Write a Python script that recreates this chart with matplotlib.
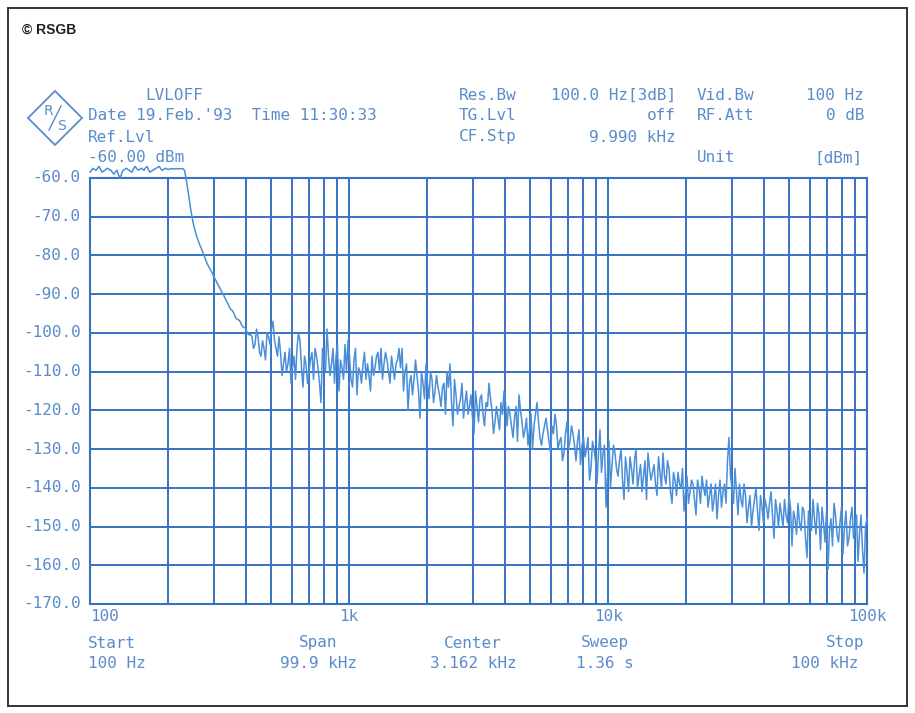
import numpy as np
import matplotlib
matplotlib.use("Agg")
import matplotlib.pyplot as plt
from matplotlib.patches import Polygon, Rectangle
from matplotlib.lines import Line2D
from matplotlib.ticker import LogLocator, NullFormatter, FixedLocator

# sweep: 100 Hz .. 100 kHz, levels in dBm
start_hz = 100
stop_hz = 100000
levels = [
    -58.5, -57.5, -58.0, -57.0, -58.5, -58.0, -57.5, -58.0, -59.0, -58.0,
    -60.0, -58.0, -57.5, -58.0, -58.5, -57.0, -58.0, -57.5, -58.0, -57.0,
    -58.5, -58.0, -57.5, -57.0, -58.0, -57.5, -57.8, -57.6, -57.7, -57.6,
    -57.6, -57.6, -60.0, -65.0, -70.0, -73.5, -76.0, -78.0, -80.0, -82.0,
    -83.5, -85.0, -86.5, -88.0, -89.5, -91.0, -92.5, -94.0, -95.0, -96.5,
    -97.0, -98.5, -99.0, -100.5, -101.0, -103, -101, -106, -104, -100,
    -103, -97, -104, -101, -111, -105, -108, -113, -106, -104,
    -102, -114, -108, -110, -105, -104, -109, -118, -107, -99,
    -111, -104, -106, -115, -109, -103, -102, -112, -107, -116,
    -110, -108, -112, -111, -106, -109, -105, -104, -108, -107,
    -113, -109, -108, -104, -104, -110, -120, -111, -112, -111,
    -122, -113, -108, -117, -112, -115, -114, -119, -113, -110,
    -108, -124, -116, -119, -113, -118, -121, -116, -126, -119,
    -117, -121, -118, -113, -120, -123, -122, -118, -115, -124,
    -121, -127, -119, -116, -123, -125, -129, -121, -124, -118,
    -127, -126, -122, -128, -124, -121, -130, -127, -131, -123,
    -128, -126, -133, -125, -129, -132, -127, -135, -130, -139,
    -125, -131, -145, -128, -134, -131, -137, -130, -143, -136,
    -132, -139, -130, -137, -141, -133, -131, -138, -134, -142,
    -136, -131, -139, -135, -144, -138, -136, -140, -146, -137,
    -141, -139, -147, -140, -137, -142, -145, -139, -143, -148,
    -138, -141, -144, -127, -140, -135, -147, -143, -139, -149,
    -142, -146, -140, -151, -145, -143, -148, -141, -153, -146,
    -144, -150, -147, -142, -155, -148, -144, -151, -146, -158,
    -149, -143, -152, -147, -145, -154, -161, -148, -144, -152,
    -149, -157, -146, -153, -145, -151, -159, -147, -162, -148,
]
# readings taken between the points above (half a step further on)
levels_between = [
    -58.0, -57.8, -57.5, -57.8, -58.2, -57.6, -57.9, -58.6, -58.4, -59.2,
    -59.0, -57.8, -57.7, -58.3, -57.6, -57.5, -57.8, -57.7, -57.4, -57.9,
    -58.2, -57.7, -57.3, -57.5, -57.8, -57.6, -57.7, -57.6, -57.6, -57.6,
    -57.6, -58.0, -62.5, -67.8, -72.0, -75.0, -77.1, -79.0, -81.0, -82.8,
    -84.2, -85.8, -87.3, -88.8, -90.2, -91.8, -93.4, -94.3, -96.0, -96.6,
    -97.9, -98.6, -100.2, -100.4, -104, -99, -105, -102, -107, -101,
    -99, -102, -106, -105, -108, -110, -104, -109, -112, -100,
    -109, -106, -113, -107, -112, -106, -113, -104, -110, -106,
    -108, -113, -103, -107, -112, -110, -106, -114, -104, -109,
    -113, -105, -108, -115, -111, -106, -110, -112, -105, -110,
    -106, -112, -107, -109, -115, -108, -113, -116, -107, -115,
    -110, -117, -113, -110, -118, -111, -116, -114, -121, -114,
    -118, -112, -121, -117, -122, -115, -119, -122, -115, -123,
    -116, -124, -119, -117, -126, -119, -125, -121, -118, -119,
    -124, -122, -128, -120, -127, -122, -125, -130, -121, -123,
    -129, -124, -125, -131, -126, -124, -128, -133, -126, -130,
    -124, -129, -128, -134, -127, -130, -138, -128, -133, -131,
    -136, -129, -136, -140, -129, -135, -133, -138, -132, -141,
    -135, -133, -140, -134, -137, -143, -135, -136, -139, -132,
    -140, -137, -133, -141, -136, -142, -139, -135, -141, -144,
    -138, -143, -138, -144, -140, -138, -142, -146, -139, -142,
    -145, -139, -133, -137, -144, -141, -139, -145, -142, -145,
    -150, -143, -146, -142, -149, -145, -144, -147, -143, -150,
    -147, -143, -149, -145, -146, -152, -149, -145, -153, -146,
    -151, -148, -144, -156, -149, -146, -151, -155, -147, -154,
    -145, -150, -155, -148, -153, -147, -152, -156, -150,
]

sweep = []
for a, b in zip(levels, levels_between):
    sweep += [a, b]
sweep.append(levels[-1])
freqs = np.geomspace(start_hz, stop_hz, len(sweep))

y_ticks = [-60, -70, -80, -90, -100, -110, -120, -130, -140, -150, -160, -170]
x_labels = {100: "100", 1000: "1k", 10000: "10k", 100000: "100k"}

W, H = 915, 713
grid_col = "#3573c2"
trace_col = "#4a8fd8"
text_col = "#5a8ccb"
mono = "DejaVu Sans Mono"

fig = plt.figure(figsize=(W / 100, H / 100), dpi=100)
fig.patch.set_facecolor("white")


def px(x, y):
    return x / W, 1 - y / H


def label(x, y, s, ha="left", size=11.5, **kw):
    fx, fy = px(x, y)
    fig.text(fx, fy, s, ha=ha, va="center", color=text_col,
             family=mono, fontsize=size, **kw)


# outer frame of the page
fig.patches.append(Rectangle(px(8, 706), 899 / W, 698 / H, transform=fig.transFigure,
                             fill=False, edgecolor="#333333", linewidth=1.4))
fig.text(*px(22, 30), "\u00a9 RSGB", ha="left", va="center",
         family="Liberation Sans", fontsize=10, fontweight="bold", color="#222222")

ax = fig.add_axes([90 / W, 109 / H, 777 / W, 426 / H])
ax.semilogx(freqs, sweep, color=trace_col, linewidth=1.1, clip_on=False, zorder=3)
ax.set_xlim(start_hz, stop_hz)
ax.set_ylim(-170, -60)

ax.xaxis.set_major_locator(LogLocator(base=10, numticks=10))
ax.xaxis.set_minor_locator(LogLocator(base=10, subs=np.arange(2, 10), numticks=20))
ax.xaxis.set_major_formatter(NullFormatter())
ax.xaxis.set_minor_formatter(NullFormatter())
ax.yaxis.set_major_locator(FixedLocator(y_ticks))
ax.set_yticklabels([])
ax.tick_params(which="both", length=0)
ax.grid(True, which="both", color=grid_col, linewidth=1.4)
for sp in ax.spines.values():
    sp.set_color(grid_col)
    sp.set_linewidth(1.5)

# y labels
for v in y_ticks:
    ax.text(-0.012, (v + 170) / 110, f"{v:.1f}", transform=ax.transAxes,
            ha="right", va="center", color=text_col, family=mono, fontsize=11.5)

# x labels
for f, s in x_labels.items():
    xa = np.log10(f / start_hz) / 3
    ha = "left" if f == start_hz else "center"
    ax.text(xa, -0.03, s, transform=ax.transAxes, ha=ha, va="center",
            color=text_col, family=mono, fontsize=11.5)

# header block
label(145, 95, "LVLOFF")
label(88, 116, "Date 19.Feb.'93  Time 11:30:33")
label(88, 137, "Ref.Lvl")
label(88, 157, "-60.00 dBm")
label(459, 95, "Res.Bw")
label(676, 95, "100.0 Hz[3dB]", ha="right")
label(459, 116, "TG.Lvl")
label(676, 116, "off", ha="right")
label(459, 137, "CF.Stp")
label(676, 137, "9.990 kHz", ha="right")
label(697, 95, "Vid.Bw")
label(864, 95, "100 Hz", ha="right")
label(697, 116, "RF.Att")
label(864, 116, "0 dB", ha="right")
label(697, 158, "Unit")
label(862, 158, "[dBm]", ha="right")

# footer block
label(88, 643, "Start")
label(88, 663, "100 Hz")
label(318, 643, "Span", ha="center")
label(318, 663, "99.9 kHz", ha="center")
label(473, 643, "Center", ha="center")
label(473, 663, "3.162 kHz", ha="center")
label(605, 643, "Sweep", ha="center")
label(605, 663, "1.36 s", ha="center")
label(864, 643, "Stop", ha="right")
label(858, 663, "100 kHz", ha="right")

# R&S logo
cx, cy, r = 55, 118, 27
diamond = [px(cx - r, cy), px(cx, cy - r), px(cx + r, cy), px(cx, cy + r)]
fig.patches.append(Polygon(diamond, closed=True, transform=fig.transFigure,
                           fill=False, edgecolor=text_col, linewidth=1.3))
fig.text(*px(cx - 7, cy - 7), "R", ha="center", va="center", color=text_col,
         family="DejaVu Sans", fontsize=10)
fig.text(*px(cx + 7, cy + 8), "S", ha="center", va="center", color=text_col,
         family="DejaVu Sans", fontsize=10)
(x0, y0), (x1, y1) = px(cx - 6, cy + 12), px(cx + 6, cy - 12)
fig.lines.append(Line2D([x0, x1], [y0, y1], transform=fig.transFigure,
                        color=text_col, linewidth=1.0))

fig.savefig("out.png", dpi=100)
